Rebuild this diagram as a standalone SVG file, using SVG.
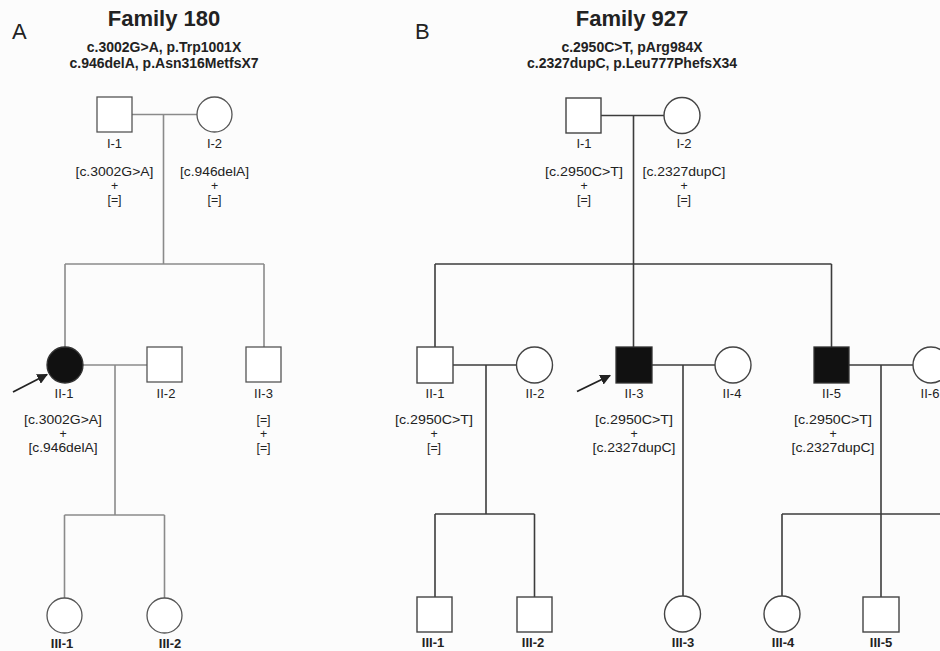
<svg xmlns="http://www.w3.org/2000/svg" width="940" height="651" viewBox="0 0 940 651">
<defs>
<style>
text{font-family:"Liberation Sans",Arial,sans-serif;fill:#222;text-anchor:middle}
.title{font-size:22px;font-weight:bold}
.sub{font-size:14px;font-weight:bold}
.panel{font-size:22px;text-anchor:start}
.id{font-size:13px}
.id3{font-size:13px;font-weight:bold}
.g{font-size:12.4px}
.shA{fill:#fff;stroke:#555;stroke-width:1.3}
.shB{fill:#fff;stroke:#444;stroke-width:1.4}
.aff{fill:#111;stroke:#333;stroke-width:1.3}
.lA{stroke:#8a8a8a;stroke-width:1.6;fill:none}
.lB{stroke:#3c3c3c;stroke-width:1.6;fill:none}
.arr{stroke:#222;stroke-width:1.8;fill:none}
</style>
<marker id="ah" viewBox="0 0 10 10" refX="9" refY="5" markerWidth="6" markerHeight="6" markerUnits="strokeWidth" orient="auto">
<path d="M0,0 L10,5 L0,10 z" fill="#222"/>
</marker>
</defs>
<rect width="940" height="651" fill="#fcfcfc"/>

<g id="headings">
<text class="panel" x="12" y="39">A</text>
<text class="title" x="164" y="26">Family 180</text>
<text class="sub" x="164" y="52">c.3002G&gt;A, p.Trp1001X</text>
<text class="sub" x="164" y="68">c.946delA, p.Asn316MetfsX7</text>
<text class="panel" x="415" y="39">B</text>
<text class="title" x="632" y="26">Family 927</text>
<text class="sub" x="632" y="52">c.2950C&gt;T, pArg984X</text>
<text class="sub" x="632" y="68">c.2327dupC, p.Leu777PhefsX34</text>
</g>

<g id="connectors">
<path class="lA" d="M132,114.5 H197 M163.5,114.5 V264 M65,264 H264 M65,264 V347 M264,264 V347"/>
<path class="lA" d="M83,365 H147 M115,365 V515 M64.5,515 H164.5 M64.5,515 V598 M164.5,515 V598"/>
<path class="lB" d="M601,115.5 H664 M633.5,115.5 V347 M435,264 H831.5 M435,264 V347 M831.5,264 V347"/>
<path class="lB" d="M453,365 H516.5 M486,365 V514 M435,514 H534.5 M435,514 V597 M534.5,514 V597"/>
<path class="lB" d="M652,365 H715 M683,365 V596"/>
<path class="lB" d="M849,365 H913 M881,365 V597 M782,514 H940 M782,514 V596"/>
<line class="arr" x1="13" y1="392" x2="47" y2="374.5" marker-end="url(#ah)"/>
<line class="arr" x1="577" y1="391.5" x2="610" y2="375.5" marker-end="url(#ah)"/>
</g>

<g id="A-I-1">
<rect class="shA" x="97" y="97" width="35" height="35"/>
<text class="id" x="114.5" y="148">I-1</text>
<text class="g" x="114.5" y="176" textLength="78" lengthAdjust="spacingAndGlyphs">[c.3002G&gt;A]</text>
<text class="g" x="114.5" y="190">+</text>
<text class="g" x="114.5" y="204">[=]</text>
</g>
<g id="A-I-2">
<circle class="shA" cx="214.5" cy="114.5" r="17.5"/>
<text class="id" x="214.5" y="148">I-2</text>
<text class="g" x="214.5" y="176" textLength="69" lengthAdjust="spacingAndGlyphs">[c.946delA]</text>
<text class="g" x="214.5" y="190">+</text>
<text class="g" x="214.5" y="204">[=]</text>
</g>
<g id="A-II-1">
<circle class="aff" cx="65" cy="365" r="18"/>
<text class="id" x="64" y="398">II-1</text>
<text class="g" x="63" y="424" textLength="78" lengthAdjust="spacingAndGlyphs">[c.3002G&gt;A]</text>
<text class="g" x="63" y="438">+</text>
<text class="g" x="63" y="452" textLength="69" lengthAdjust="spacingAndGlyphs">[c.946delA]</text>
</g>
<g id="A-II-2">
<rect class="shA" x="147" y="347" width="35" height="35"/>
<text class="id" x="166" y="398">II-2</text>
</g>
<g id="A-II-3">
<rect class="shA" x="246" y="347" width="35" height="35"/>
<text class="id" x="263.5" y="398">II-3</text>
<text class="g" x="263.5" y="424">[=]</text>
<text class="g" x="263.5" y="438">+</text>
<text class="g" x="263.5" y="452">[=]</text>
</g>
<g id="A-III-1">
<circle class="shA" cx="64.5" cy="615.5" r="17.5"/>
<text class="id3" x="62" y="648">III-1</text>
</g>
<g id="A-III-2">
<circle class="shA" cx="164.5" cy="615.5" r="17.5"/>
<text class="id3" x="170" y="648">III-2</text>
</g>

<g id="B-I-1">
<rect class="shB" x="566" y="98" width="35" height="35"/>
<text class="id" x="584" y="148">I-1</text>
<text class="g" x="584" y="176" textLength="78" lengthAdjust="spacingAndGlyphs">[c.2950C&gt;T]</text>
<text class="g" x="584" y="190">+</text>
<text class="g" x="584" y="204">[=]</text>
</g>
<g id="B-I-2">
<circle class="shB" cx="682" cy="115.5" r="18"/>
<text class="id" x="684" y="148">I-2</text>
<text class="g" x="684" y="176" textLength="83" lengthAdjust="spacingAndGlyphs">[c.2327dupC]</text>
<text class="g" x="684" y="190">+</text>
<text class="g" x="684" y="204">[=]</text>
</g>
<g id="B-II-1">
<rect class="shB" x="417" y="347" width="36" height="36"/>
<text class="id" x="435" y="398">II-1</text>
<text class="g" x="434" y="424" textLength="78" lengthAdjust="spacingAndGlyphs">[c.2950C&gt;T]</text>
<text class="g" x="434" y="438">+</text>
<text class="g" x="434" y="452">[=]</text>
</g>
<g id="B-II-2">
<circle class="shB" cx="534.5" cy="365" r="18"/>
<text class="id" x="535" y="398">II-2</text>
</g>
<g id="B-II-3">
<rect class="aff" x="616" y="347" width="36" height="36"/>
<text class="id" x="634" y="398">II-3</text>
<text class="g" x="634" y="424" textLength="78" lengthAdjust="spacingAndGlyphs">[c.2950C&gt;T]</text>
<text class="g" x="634" y="438">+</text>
<text class="g" x="634" y="452" textLength="83" lengthAdjust="spacingAndGlyphs">[c.2327dupC]</text>
</g>
<g id="B-II-4">
<circle class="shB" cx="733" cy="365" r="18"/>
<text class="id" x="732" y="398">II-4</text>
</g>
<g id="B-II-5">
<rect class="aff" x="814" y="347" width="35" height="36"/>
<text class="id" x="831.5" y="398">II-5</text>
<text class="g" x="833" y="424" textLength="78" lengthAdjust="spacingAndGlyphs">[c.2950C&gt;T]</text>
<text class="g" x="833" y="438">+</text>
<text class="g" x="833" y="452" textLength="83" lengthAdjust="spacingAndGlyphs">[c.2327dupC]</text>
</g>
<g id="B-II-6">
<circle class="shB" cx="931" cy="365" r="18"/>
<text class="id" x="930" y="398">II-6</text>
</g>
<g id="B-III-1">
<rect class="shB" x="417" y="597" width="35" height="35"/>
<text class="id3" x="433" y="647">III-1</text>
</g>
<g id="B-III-2">
<rect class="shB" x="517" y="597" width="35" height="35"/>
<text class="id3" x="533" y="647">III-2</text>
</g>
<g id="B-III-3">
<circle class="shB" cx="682.5" cy="614" r="18"/>
<text class="id3" x="683" y="647">III-3</text>
</g>
<g id="B-III-4">
<circle class="shB" cx="782" cy="614" r="18"/>
<text class="id3" x="783" y="647">III-4</text>
</g>
<g id="B-III-5">
<rect class="shB" x="863" y="597" width="36" height="35"/>
<text class="id3" x="881" y="647">III-5</text>
</g>
</svg>
